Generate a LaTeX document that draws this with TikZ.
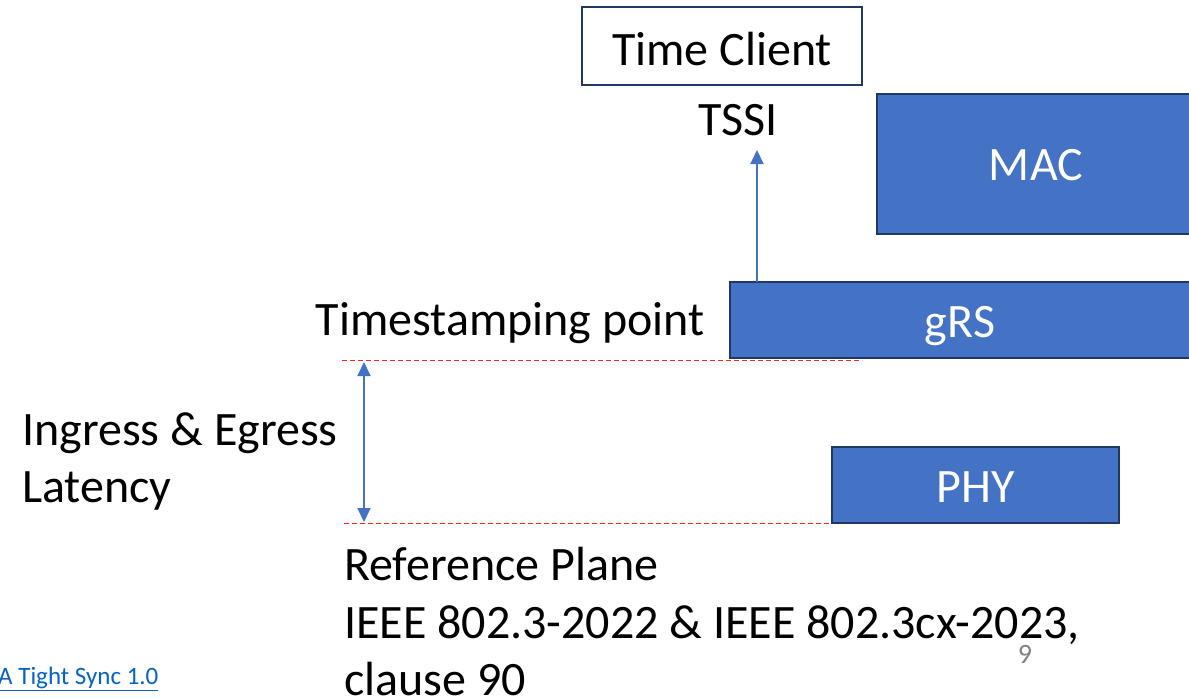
\documentclass[tikz,border=0pt]{standalone}
\usepackage{fontspec}
\setmainfont{Carlito}
\usetikzlibrary{arrows.meta}
\definecolor{boxblue}{HTML}{4472C4}
\definecolor{boxedge}{HTML}{1F3864}
\definecolor{linkblue}{HTML}{0563C1}
\definecolor{refred}{HTML}{FF2020}
\begin{document}
\begin{tikzpicture}[x=1pt,y=-1pt,
  big/.style={font=\fontsize{48}{57}\selectfont, inner sep=0pt},
  layer/.style={draw=boxedge, fill=boxblue, line width=2pt},
  refline/.style={refred, dash pattern=on 5pt off 3pt, line width=1.3pt},
  bluearrow/.style={boxblue, line width=2pt, -{Triangle[length=14pt,width=13pt]}},
  dblarrow/.style={boxblue, line width=2pt, {Triangle[length=14pt,width=13pt]}-{Triangle[length=14pt,width=13pt]}}]
\useasboundingbox (0,0) rectangle (1189,697);
\clip (0,0) rectangle (1189,697);

% protocol layers
\draw[layer] (877,94) rectangle (1195,234);
\draw[layer] (730,282) rectangle (1195,358);
\draw[layer] (832,447) rectangle (1119,523);
\node[big, text=white, anchor=base] (mac) at (1036,180) {MAC};
\node[big, text=white, anchor=base] (grs) at (960,337) {gRS};
\node[big, text=white, anchor=base] (phy) at (976,502) {PHY};

% time client
\node[draw=boxedge, line width=2pt, minimum width=280pt, minimum height=78pt, inner sep=0pt] (client) at (722,46) {};
\node[big, anchor=base] (clienttext) at (722,65) {Time Client};
\node[big, anchor=base] (tssi) at (738,135) {TSSI};

% timestamp indication
\coordinate (tsbase) at (757,282);
\coordinate (tstip) at (757,150);
\draw[bluearrow] (tsbase) -- (tstip);

% reference lines
\coordinate (tpl) at (342,360.5);
\coordinate (tpr) at (862,360.5);
\coordinate (rpl) at (344,523.5);
\coordinate (rpr) at (831,523.5);
\draw[refline] (tpl) -- (tpr);
\draw[refline] (rpl) -- (rpr);

% latency arrow
\coordinate (lattop) at (364,362);
\coordinate (latbot) at (364,522);
\draw[dblarrow] (latbot) -- (lattop);

% labels
\node[big, anchor=base east] (tslabel) at (705,335) {Timestamping point};
\node[big, anchor=base west] (lat1) at (22,445) {Ingress \& Egress};
\node[big, anchor=base west] (lat2) at (22,502) {Latency};
\node[big, anchor=base west] (ref1) at (344,580) {Reference Plane};
\node[big, anchor=base west] (ref2) at (344,638) {IEEE 802.3-2022 \& IEEE 802.3cx-2023,};
\node[big, anchor=base west] (ref3) at (344,695) {clause 90};

% footer
\node[font=\fontsize{28}{32}\selectfont, text=gray, anchor=base] (page) at (1025,663) {9};
\node[font=\fontsize{25}{29}\selectfont, text=linkblue, anchor=base west, inner sep=0pt] (link) at (-2,684) {\underline{A Tight Sync 1.0}};
\end{tikzpicture}
\end{document}
